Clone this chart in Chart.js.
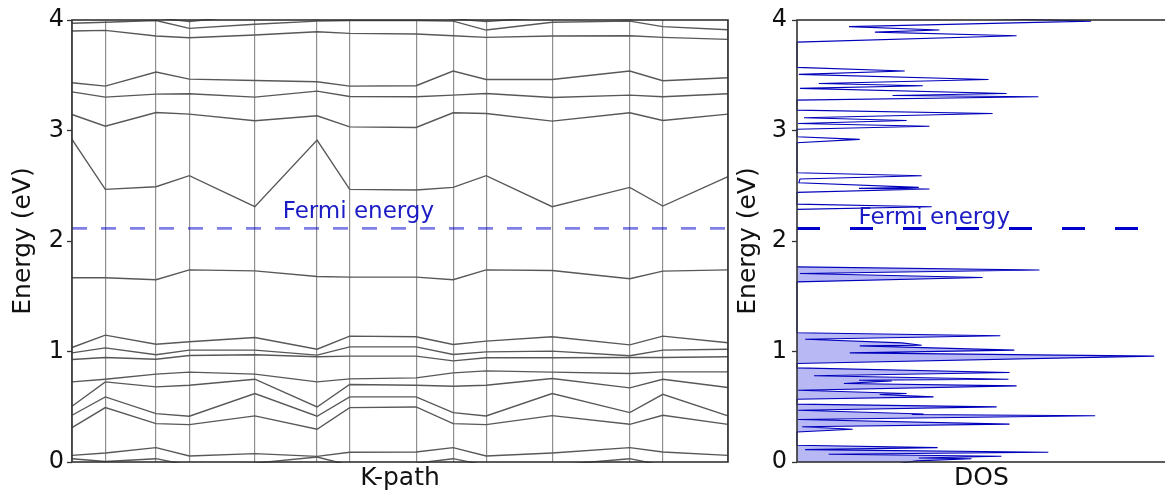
<!DOCTYPE html>
<html><head><meta charset="utf-8">
<script src="https://cdn.jsdelivr.net/npm/chart.js@4.4.1/dist/chart.umd.min.js"></script>
<style>
html,body{margin:0;padding:0;background:#fff;overflow:hidden;width:1165px;height:499px;}
#bands{position:absolute;left:0;top:0;}
#dos{position:absolute;left:725px;top:0;}
</style></head><body>
<canvas id="bands" width="740" height="499"></canvas>
<canvas id="dos" width="445" height="499"></canvas>
<script>
// ---------- data ----------
const kpath = [0, 0.333, 0.840, 1.173, 1.828, 2.450, 2.776, 3.440, 3.810, 4.140, 4.800, 5.576, 5.906, 6.558];
const energyTicks = [0, 1, 2, 3, 4];
const fermiEnergy = 2.114;

const band01 = [0.03, 0.005, 0.03, -0.03, -0.01, 0.045, -0.03, -0.01, 0.03, -0.03, -0.03, 0.03, -0.03, -0.03];
const band02 = [0.060, 0.082, 0.130, 0.054, 0.076, 0.051, 0.088, 0.091, 0.130, 0.054, 0.082, 0.130, 0.091, 0.060];
const band03 = [0.311, 0.492, 0.347, 0.338, 0.417, 0.296, 0.492, 0.498, 0.347, 0.338, 0.420, 0.341, 0.423, 0.341];
const band04 = [0.423, 0.589, 0.438, 0.414, 0.619, 0.414, 0.589, 0.589, 0.447, 0.417, 0.619, 0.447, 0.613, 0.417];
const band05 = [0.505, 0.725, 0.680, 0.695, 0.749, 0.498, 0.701, 0.695, 0.686, 0.695, 0.755, 0.671, 0.749, 0.674];
const band06 = [0.725, 0.749, 0.795, 0.813, 0.795, 0.725, 0.752, 0.761, 0.807, 0.825, 0.813, 0.801, 0.816, 0.816];
const band07 = [0.927, 0.946, 0.930, 0.964, 0.970, 0.952, 0.958, 0.958, 0.915, 0.943, 0.943, 0.946, 0.946, 0.952];
const band08 = [0.988, 1.033, 0.970, 1.012, 1.012, 0.967, 1.042, 1.042, 0.973, 0.997, 1.003, 0.961, 1.012, 1.021];
const band09 = [1.036, 1.148, 1.066, 1.088, 1.127, 1.021, 1.139, 1.133, 1.063, 1.094, 1.133, 1.060, 1.139, 1.079];
const band10 = [1.667, 1.667, 1.649, 1.739, 1.730, 1.679, 1.673, 1.673, 1.649, 1.739, 1.733, 1.658, 1.727, 1.739];
const band11 = [2.920, 2.467, 2.491, 2.591, 2.310, 2.914, 2.467, 2.461, 2.485, 2.591, 2.310, 2.485, 2.316, 2.582];
const band12 = [3.145, 3.039, 3.163, 3.148, 3.088, 3.133, 3.033, 3.027, 3.160, 3.154, 3.085, 3.160, 3.091, 3.148];
const band13 = [3.350, 3.302, 3.329, 3.332, 3.302, 3.356, 3.308, 3.305, 3.320, 3.335, 3.299, 3.320, 3.305, 3.332];
const band14 = [3.432, 3.402, 3.529, 3.465, 3.453, 3.441, 3.402, 3.405, 3.538, 3.462, 3.462, 3.538, 3.450, 3.477];
const band15 = [3.900, 3.906, 3.855, 3.840, 3.864, 3.894, 3.879, 3.873, 3.858, 3.843, 3.855, 3.858, 3.843, 3.825];
const band16 = [3.970, 3.979, 3.995, 3.924, 3.961, 3.990, 3.995, 3.995, 3.990, 3.909, 3.979, 3.990, 3.940, 3.912];
const band17 = [4.05, 4.05, 4.02, 3.985, 4.05, 4.01, 4.05, 4.05, 4.01, 3.985, 4.03, 4.01, 4.05, 4.05];
const bands = [band01, band02, band03, band04, band05, band06, band07, band08, band09,
               band10, band11, band12, band13, band14, band15, band16, band17];

// DOS below the Fermi energy (filled)
const dosEnergyOcc = [-0.03, 0.010, 0.030, 0.036, 0.052, 0.070, 0.088, 0.112, 0.130, 0.151,
  0.272, 0.296, 0.319, 0.343, 0.385, 0.419, 0.430, 0.435, 0.469, 0.499, 0.524,
  0.568, 0.589, 0.611, 0.620, 0.650, 0.689, 0.710, 0.734, 0.740, 0.749, 0.780, 0.810, 0.852,
  0.891, 0.958, 0.988, 1.012, 1.051, 1.057, 1.078, 1.111, 1.142, 1.169,
  1.630, 1.670, 1.706, 1.737, 1.766];
const dosValueOcc = [2.43, 3.24, 4.73, 3.30, 5.54, 0.86, 6.81, 0.22, 3.81, 0,
  0, 1.51, 0.14, 5.76, 0.03, 8.08, 3.11, 3.43, 0.03, 5.41, 0,
  0, 3.70, 2.24, 2.97, 0.03, 5.95, 1.27, 2.57, 1.68, 5.73, 0.46, 5.76, 0,
  0, 9.68, 1.43, 5.89, 1.70, 3.38, 2.84, 0.22, 5.51, 0,
  0, 5.03, 0.08, 6.57, 0];
// DOS above the Fermi energy
const dosEnergyUnocc = [2.286, 2.310, 2.334, 2.440, 2.470, 2.476, 2.485, 2.527, 2.561, 2.591, 2.618,
  2.890, 2.920, 2.944, 3.012, 3.039, 3.063, 3.091, 3.115, 3.154, 3.184,
  3.275, 3.305, 3.317, 3.335, 3.381, 3.405, 3.426, 3.462, 3.508, 3.538, 3.571,
  3.800, 3.858, 3.890, 3.910, 3.940, 3.990, 4.040];
const dosValueUnocc = [0, 3.65, 0, 0, 3.59, 1.68, 3.30, 0.05, 0.08, 3.38, 0,
  0, 1.70, 0, 0, 3.59, 0.03, 2.97, 0.19, 5.30, 0,
  0, 6.54, 2.59, 5.68, 0.08, 3.41, 0.59, 5.19, 0.05, 2.92, 0,
  0, 5.95, 2.11, 3.86, 1.41, 7.97, 2.16];
const dosRange = [0, 10];

const fermiText = 'Fermi energy';
const bandLabelPos = [2.106, 2.205];   // (k, energy)
const dosLabelPos = [1.67, 2.153];     // (dos, energy)

// ---------- styling ----------
Chart.defaults.font.family = "'DejaVu Sans', sans-serif";
Chart.defaults.color = '#111';
const FONT_FAMILY = "'DejaVu Sans', sans-serif";

const framePlugin = {
  id: 'frame',
  afterDatasetsDraw(chart) {
    const {ctx, chartArea: a} = chart;
    ctx.save();
    ctx.strokeStyle = '#333';
    ctx.lineWidth = 1.6;
    ctx.strokeRect(a.left, a.top, a.right - a.left, a.bottom - a.top);
    ctx.restore();
  }
};
function labelPlugin(text, pos, color) {
  return {
    id: 'fermiLabel',
    afterDatasetsDraw(chart) {
      const {ctx, scales} = chart;
      ctx.save();
      ctx.font = '23px ' + FONT_FAMILY;
      ctx.fillStyle = color;
      ctx.textAlign = 'left';
      ctx.textBaseline = 'alphabetic';
      ctx.fillText(text, scales.x.getPixelForValue(pos[0]), scales.y.getPixelForValue(pos[1]));
      ctx.restore();
    }
  };
}
const energyAxis = (pad, tickPad) => ({
  type: 'linear', min: energyTicks[0], max: energyTicks[energyTicks.length - 1],
  afterBuildTicks: ax => { ax.ticks = energyTicks.map(v => ({value: v})); },
  afterFit: ax => { ax.width = 72; },
  ticks: {font: {size: 24}, color: '#111', padding: tickPad},
  grid: {drawOnChartArea: false, drawTicks: true, tickLength: 5, tickColor: '#333', tickWidth: 1.3},
  border: {display: false},
  title: {display: true, text: 'Energy (eV)', font: {size: 25}, color: '#111', padding: {top: pad, bottom: 0}}
});

// ---------- band structure ----------
const fermiBand = {
  data: [{x: kpath[0], y: fermiEnergy}, {x: kpath[kpath.length - 1], y: fermiEnergy}],
  showLine: true, borderColor: 'rgba(0,0,205,0.5)', borderWidth: 2.6, borderDash: [15, 14],
  pointRadius: 0, clip: 1
};
const bandSets = bands.map(b => ({
  data: kpath.map((k, i) => ({x: k, y: b[i]})),
  showLine: true, borderColor: '#585858', borderWidth: 1.4, pointRadius: 0, tension: 0, clip: 1
}));
new Chart(document.getElementById('bands'), {
  type: 'scatter',
  data: {datasets: [fermiBand, ...bandSets]},
  options: {
    responsive: false, animation: false, events: [],
    layout: {padding: {top: 20, right: 12, bottom: 0, left: 0}},
    plugins: {legend: {display: false}, tooltip: {enabled: false}},
    scales: {
      x: {
        type: 'linear', min: kpath[0], max: kpath[kpath.length - 1],
        afterBuildTicks: ax => { ax.ticks = kpath.map(v => ({value: v})); },
        afterFit: ax => { ax.height = 37; },
        ticks: {display: false},
        grid: {color: '#8f8f8f', lineWidth: 1.2, drawTicks: false},
        border: {display: false},
        title: {display: true, text: 'K-path', font: {size: 25}, color: '#111', padding: {top: 0, bottom: 6}}
      },
      y: energyAxis(8, 3)
    }
  },
  plugins: [framePlugin, labelPlugin(fermiText, bandLabelPos, '#1c1cc4')]
});

// ---------- DOS ----------
new Chart(document.getElementById('dos'), {
  type: 'line',
  data: {
    datasets: [
      {
        data: [{x: dosRange[0], y: fermiEnergy}, {x: dosRange[1], y: fermiEnergy}],
        borderColor: 'rgb(0,0,205)', borderWidth: 3, borderDash: [23, 30], pointRadius: 0, fill: false, clip: 1
      },
      {
        data: dosEnergyOcc.map((e, i) => ({x: dosValueOcc[i], y: e})),
        borderColor: '#0000bb', borderWidth: 1.1, pointRadius: 0, tension: 0,
        fill: 'origin', backgroundColor: 'rgba(0,0,220,0.28)', clip: 1
      },
      {
        data: dosEnergyUnocc.map((e, i) => ({x: dosValueUnocc[i], y: e})),
        borderColor: '#0000bb', borderWidth: 1.1, pointRadius: 0, tension: 0, fill: false, clip: 1
      }
    ]
  },
  options: {
    indexAxis: 'y',
    responsive: false, animation: false, events: [],
    layout: {padding: {top: 20, right: 4, bottom: 0, left: 0}},
    plugins: {legend: {display: false}, tooltip: {enabled: false}},
    scales: {
      x: {
        type: 'linear', min: dosRange[0], max: dosRange[1],
        afterFit: ax => { ax.height = 37; },
        ticks: {display: false},
        grid: {display: false},
        border: {display: false},
        title: {display: true, text: 'DOS', font: {size: 25}, color: '#111', padding: {top: 0, bottom: 6}}
      },
      y: energyAxis(8, 5)
    }
  },
  plugins: [framePlugin, labelPlugin(fermiText, dosLabelPos, '#1c1cc4')]
});
</script></body></html>
